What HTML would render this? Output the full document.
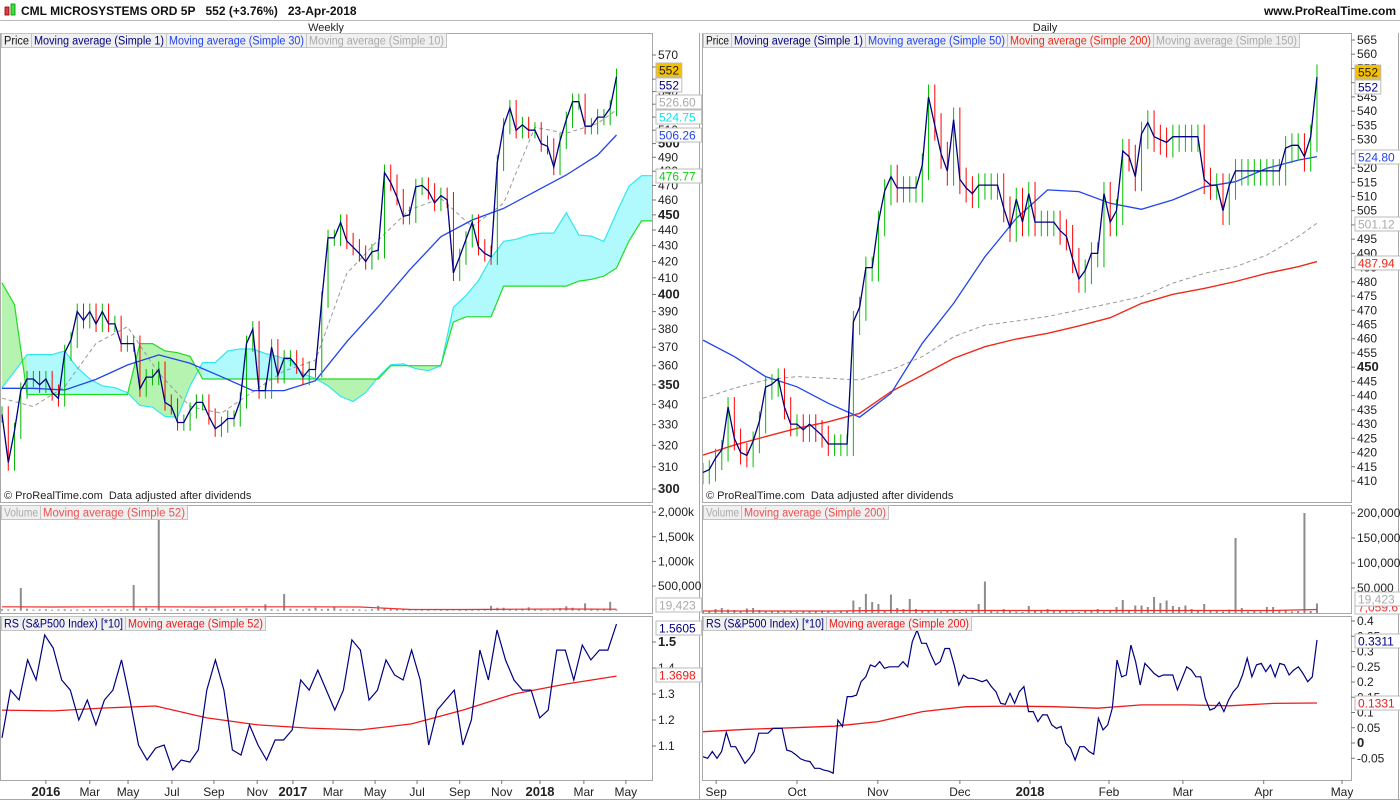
<!DOCTYPE html>
<html><head><meta charset="utf-8">
<style>
html,body{margin:0;padding:0;background:#fff;}
svg{display:block;font-family:"Liberation Sans",Arial,sans-serif;}
</style></head>
<body>
<svg id="c" width="1400" height="800" viewBox="0 0 1400 800" xmlns="http://www.w3.org/2000/svg"></svg>
<script>
// ---------- DATA ----------
const W_CLOSE=[335,312,327,347,353,353,350,353,346,343,367,374,390,385,390,383,390,383,383,372,372,372,348,354,354,358,341,339,331,331,337,341,341,334,328,330,333,333,342,372,380,347,347,370,355,364,364,360,354,358,358,397,435,435,445,433,429,425,420,426,427,479,472,462,449,450,469,470,466,458,463,460,413,423,434,445,429,425,423,486,513,527,510,514,510,510,500,498,483,502,518,532,532,513,513,520,520,527,552];
const W_MA30=[348.2,348.2,347.3,352.8,360.4,365.8,361.3,354.2,347,347,352.1,373,392.8,414.7,435.7,446.6,454.3,465.7,477.3,491.6,506.4];
const W_MA10=[343.1,338.9,349,372.1,381.4,356,338.9,335.6,346.4,357.2,363,412.7,433.5,453.3,461.1,442.2,457.8,512.2,507.7,515.2,525.5];
const CLOUD_A=[348.5,357,366,366,366,368,359,353,349.5,348.5,346,339.5,338.6,334,333.5,349.5,361.7,361.7,368,369,369,366.6,365,362.8,355.8,353.2,349.5,344,341.5,346,354,360.5,361,358.4,357.4,360,392.5,399.4,408.3,422.3,432.7,434,436.7,438,438,451.4,436.7,436,432.7,451.4,469.4,476.8,476.8];
const CLOUD_B=[407,394,345,345,345,345,345,345,345,345,345,372,372,368,367,365,353,353,353,353,353,353,353,353,353,353,353,353,353,353,353,360,360,360,360,360,384,387,387,387,405,405,405,405,405,405,408,409,411,416,433,446,446];
const W_VOL=[30,25,30,460,40,20,25,30,20,25,30,20,25,20,30,25,20,30,25,20,30,520,40,60,30,1860,40,20,30,25,20,25,30,20,40,30,25,40,30,50,40,35,130,30,20,340,40,30,25,40,60,30,40,70,30,20,30,25,20,30,100,50,40,30,40,15,10,20,15,10,25,15,10,20,30,25,15,20,100,60,60,30,30,40,70,25,20,15,30,50,90,60,40,150,40,30,40,180,19];
const W_VOLMA=[80,75,80,80,75,80,80,75,25,25,30,35,30];
const W_RS=[1.131,1.315,1.277,1.431,1.354,1.527,1.477,1.354,1.315,1.2,1.277,1.181,1.277,1.315,1.431,1.277,1.104,1.046,1.092,1.104,1.008,1.046,1.038,1.085,1.315,1.431,1.315,1.085,1.065,1.181,1.104,1.046,1.123,1.123,1.162,1.354,1.315,1.392,1.315,1.238,1.315,1.508,1.469,1.277,1.315,1.431,1.373,1.354,1.469,1.354,1.104,1.238,1.277,1.315,1.104,1.2,1.469,1.354,1.546,1.431,1.354,1.315,1.315,1.208,1.238,1.469,1.469,1.354,1.488,1.431,1.469,1.469,1.569];
const W_RSMA=[1.238,1.235,1.246,1.254,1.208,1.181,1.169,1.162,1.185,1.238,1.3,1.338,1.369];
const W_TICK_LABELS=["2016","Mar","May","Jul","Sep","Nov","2017","Mar","May","Jul","Sep","Nov","2018","Mar","May"];
const W_TICK_IDX=[7,14,20.1,27.1,33.8,40.7,46.4,52.8,59.5,66.2,73,79.7,85.8,92.8,99.5];

const D_CLOSE=[413,414,418,421,436,425,420,419,424,431,443,444,446,436,430,430,428,430,428,426,423,423,423,423,466,471,485,485,501,512,517,513,513,513,513,521,545,535,525,519,537,516,513,511,514,514,514,514,506,499,509,501,511,501,501,501,501,498,496,488,481,484,490,490,511,501,505,526,524,517,532,536,531,530,529,531,531,531,531,531,516,514,514,505,514,519,519,519,519,519,519,519,519,527,528,528,524,531,552];
const D_MA50=[459.5,453.7,446.7,443.1,437.3,432.4,440.8,458.4,472.4,488.8,502.3,512.3,511.7,507.6,505.5,508.8,513.4,515.2,519.9,522.8,524];
const D_MA200=[419.1,422.6,425.6,428.5,430.8,433.8,441.4,447.2,453.1,457.2,459.9,461.9,464.5,467.4,472.4,475.6,477.7,480.1,483,485.3,487.1];
const D_MA150=[439.05,442.6,445.5,446.7,446.1,445.5,449,453.7,460.7,464.8,466.2,467.8,470.1,472.4,474.8,479.5,483,485.3,489.4,495.9,500.6];
const D_VOL=[5,4,8,10,7,6,5,9,10,6,4,3,5,4,3,2,4,3,5,4,3,2,4,3,25,12,38,22,18,5,37,10,8,28,8,5,4,6,3,5,4,2,3,4,18,63,5,3,8,6,3,2,14,4,5,8,6,4,5,3,2,4,5,8,3,4,12,26,5,15,15,12,32,20,25,14,12,15,8,5,18,6,4,3,7,150,10,3,4,3,12,12,6,5,3,4,200,4,19];
const D_VOLMA=[4,4,4,4,5,5,5,5,5,5,5,5,5,5,7];
const D_RS=[-0.045,-0.05,-0.028,-0.05,-0.028,0.035,-0.012,-0.012,-0.039,-0.067,-0.05,-0.028,0.032,0.032,0.032,0.048,0.048,0.048,-0.023,-0.028,-0.039,-0.052,-0.058,-0.061,-0.083,-0.083,-0.089,-0.092,-0.099,0.075,0.054,0.152,0.152,0.157,0.201,0.217,0.256,0.25,0.267,0.245,0.25,0.25,0.25,0.267,0.25,0.332,0.37,0.327,0.327,0.289,0.256,0.267,0.31,0.31,0.256,0.19,0.223,0.212,0.212,0.207,0.201,0.207,0.185,0.168,0.13,0.127,0.163,0.13,0.168,0.185,0.103,0.103,0.07,0.092,0.092,0.059,0.048,0.054,-0.001,-0.017,-0.056,-0.012,-0.012,-0.028,-0.037,0.081,0.043,0.059,0.114,0.272,0.217,0.223,0.321,0.267,0.19,0.261,0.245,0.228,0.217,0.223,0.223,0.223,0.174,0.212,0.25,0.239,0.217,0.217,0.146,0.108,0.114,0.133,0.103,0.141,0.168,0.185,0.223,0.278,0.217,0.256,0.261,0.234,0.256,0.217,0.261,0.256,0.223,0.239,0.25,0.228,0.201,0.217,0.338];
const D_RSMA=[0.037,0.045,0.05,0.055,0.07,0.103,0.119,0.121,0.119,0.114,0.125,0.125,0.122,0.13,0.131];
const D_TICK_LABELS=["Sep","Oct","Nov","Dec","2018","Feb","Mar","Apr","May"];
const D_TICK_IDX=[2.1,15,27.9,41,52.2,64.8,76.6,89.5,102];

// ---------- SCALES ----------
const svg=document.getElementById('c');
const NS='http://www.w3.org/2000/svg';
function mk(tag,attrs,parent){const e=document.createElementNS(NS,tag);for(const k in attrs)e.setAttribute(k,attrs[k]);(parent||svg).appendChild(e);return e;}
const wx=i=>2+i*6.27;
const wy=v=>55+Math.log(570/v)*676.2;
const dx=k=>703+k*6.265;
const dy=v=>40+(565-v)*2.845;
const wvy=v=>610.7-v*0.0493;
const dvy=v=>613-v*0.5;
const wry=v=>642+(1.5-v)*260;
const dry=v=>743-v*305;
const knot=n=>{const a=[];for(let i=0;i<n-1;i++)a.push(i*5);a.push(98);return a;};
const KN=knot(21);

function poly(pts,stroke,sw,dash,parent){const e=mk('polyline',{points:pts.map(p=>p[0].toFixed(1)+','+p[1].toFixed(1)).join(' '),fill:'none',stroke:stroke,'stroke-width':sw},parent);if(dash)e.setAttribute('stroke-dasharray',dash);return e;}
function txt(x,y,s,opt,parent){const e=mk('text',Object.assign({x:x,y:y,'font-size':11,fill:'#222'},opt||{}),parent);e.textContent=s;return e;}

// ---------- HEADER ----------
let el;
el=mk('rect',{x:5,y:7,width:4,height:8,fill:'#e04040',stroke:'#800',"stroke-width":0.8});


el=mk('rect',{x:11,y:4,width:4,height:11,fill:'#40e040',stroke:'#080',"stroke-width":0.8});


el=txt(21,15,'CML MICROSYSTEMS ORD 5P\u00a0\u00a0\u00a0552 (+3.76%)\u00a0\u00a0\u00a023-Apr-2018',{'font-weight':'bold','font-size':12,fill:'#111'});


el=txt(1396,15,'www.ProRealTime.com',{'font-weight':'bold','font-size':12,fill:'#111','text-anchor':'end'});


el=mk('line',{x1:0,y1:20.5,x2:1400,y2:20.5,stroke:'#bbb'});


el=txt(326,31,'Weekly',{'text-anchor':'middle','font-size':11});


el=txt(1045,31,'Daily',{'text-anchor':'middle','font-size':11});



// ---------- PANEL FRAMES ----------
function frame(x,y,w,h,name){const e=mk('rect',{x:x+0.5,y:y+0.5,width:w,height:h,fill:'#fff',stroke:'#a8a8a8'});return e;}
frame(0,33,652,469,'weekly-price-panel');
frame(0,505,652,108,'weekly-volume-panel');
frame(0,616,652,164,'weekly-rs-panel');
frame(702,33,649,469,'daily-price-panel');
frame(702,505,649,108,'daily-volume-panel');
frame(702,616,649,164,'daily-rs-panel');
el=mk('line',{x1:699.5,y1:33,x2:699.5,y2:800,stroke:'#a8a8a8'});


el=mk('line',{x1:1398.5,y1:33,x2:1398.5,y2:800,stroke:'#a8a8a8'});


el=mk('line',{x1:0,y1:799.5,x2:1400,y2:799.5,stroke:'#a8a8a8'});



const defs=mk('defs',{});
function clip(id,x,y,w,h){const c=mk('clipPath',{id:id},defs);mk('rect',{x:x,y:y,width:w,height:h},c);}
clip('cwp',1,34,651,468);clip('cwv',1,506,651,107);clip('cwr',1,617,651,163);
clip('cdp',703,34,648,468);clip('cdv',703,506,648,107);clip('cdr',703,617,648,163);

// ---------- WEEKLY PRICE ----------
const gW=mk('g',{'clip-path':'url(#cwp)'});


const CK=CLOUD_A.map((_,j)=>j*2);
for(let j=0;j<CK.length-1;j++){
  const x1=wx(CK[j]),x2=wx(CK[j+1]);
  const up=(CLOUD_A[j]+CLOUD_A[j+1])>=(CLOUD_B[j]+CLOUD_B[j+1]);
  const p=mk('polygon',{points:`${x1},${wy(CLOUD_A[j])} ${x2},${wy(CLOUD_A[j+1])} ${x2},${wy(CLOUD_B[j+1])} ${x1},${wy(CLOUD_B[j])}`,fill:up?'#b0fafd':'#b6f3b0',stroke:up?'#b0fafd':'#b6f3b0','stroke-width':0.6},gW);
  
  
}
el=poly(CK.map((k,j)=>[wx(k),wy(CLOUD_A[j])]),'#30e8f0',1.2,null,gW);


el=poly(CK.map((k,j)=>[wx(k),wy(CLOUD_B[j])]),'#20dd20',1.2,null,gW);


el=poly(KN.map((k,j)=>[wx(k),wy(W_MA10[j])]),'#999',1,'4,3',gW);


el=poly(KN.map((k,j)=>[wx(k),wy(W_MA30[j])]),'#2244ee',1.3,null,gW);


for(let i=0;i<W_CLOSE.length;i++){
  const c=W_CLOSE[i],o=i?W_CLOSE[i-1]:c;
  const b=mk('line',{x1:wx(i),x2:wx(i),y1:wy(Math.max(o,c)*1.012),y2:wy(Math.min(o,c)*0.988),stroke:c>=o?'#00b400':'#ff0000','stroke-width':1},gW);
  
  
}
el=poly(W_CLOSE.map((v,i)=>[wx(i),wy(v)]),'#000080',1.3,null,gW);



// ---------- DAILY PRICE ----------
const gD=mk('g',{'clip-path':'url(#cdp)'});


el=poly(KN.map((k,j)=>[dx(k),dy(D_MA150[j])]),'#999',1,'4,3',gD);


el=poly(KN.map((k,j)=>[dx(k),dy(D_MA200[j])]),'#ee2a1a',1.4,null,gD);


el=poly(KN.map((k,j)=>[dx(k),dy(D_MA50[j])]),'#2244ee',1.3,null,gD);


for(let i=0;i<D_CLOSE.length;i++){
  const c=D_CLOSE[i],o=i?D_CLOSE[i-1]:c;
  const b=mk('line',{x1:dx(i),x2:dx(i),y1:dy(Math.max(o,c)*1.008),y2:dy(Math.min(o,c)*0.99),stroke:c>=o?'#00c000':'#ff0000','stroke-width':1},gD);
  
  
}
el=poly(D_CLOSE.map((v,i)=>[dx(i),dy(v)]),'#000080',1.3,null,gD);



// ---------- VOLUME ----------
const gWV=mk('g',{'clip-path':'url(#cwv)'});


W_VOL.forEach((v,i)=>{const b=mk('rect',{x:wx(i)-1,y:wvy(v),width:2,height:wvy(0)-wvy(v),fill:'#8c8c8c'},gWV);
  
  });
el=poly(W_VOLMA.map((v,j)=>[wx(j*98/12),wvy(v)]),'#ee3030',1.2,null,gWV);


const gDV=mk('g',{'clip-path':'url(#cdv)'});


D_VOL.forEach((v,i)=>{const b=mk('rect',{x:dx(i)-1,y:dvy(v),width:2,height:dvy(0)-dvy(v),fill:'#8c8c8c'},gDV);
  
  });
el=poly(D_VOLMA.map((v,j)=>[dx(j*98/14),dvy(v)]),'#ee3030',1.2,null,gDV);



// ---------- RS ----------
const gWR=mk('g',{'clip-path':'url(#cwr)'});


el=poly(W_RSMA.map((v,j)=>[wx(j*98/12),wry(v)]),'#ee1a1a',1.3,null,gWR);


el=poly(W_RS.map((v,j)=>[wx(j*98/(W_RS.length-1)),wry(v)]),'#000080',1.2,null,gWR);


const gDR=mk('g',{'clip-path':'url(#cdr)'});


el=poly(D_RSMA.map((v,j)=>[dx(j*98/14),dry(v)]),'#ee1a1a',1.3,null,gDR);


el=poly(D_RS.map((v,j)=>[dx(j*98/(D_RS.length-1)),dry(v)]),'#000080',1.2,null,gDR);



// ---------- AXES ----------
function ytick(x,y,label,bold,name){
  const t=mk('line',{x1:x,x2:x+4,y1:y,y2:y,stroke:'#777'});
  
  
  const l=txt(x+6,y+4,label,{'font-size':bold?13:12,'font-weight':bold?'bold':'normal',fill:'#222'});
  
  
}
for(let v=300;v<=570;v+=10)ytick(652,wy(v),String(v),v%50===0,'weekly-price-axis');
for(let v=410;v<=565;v+=5)ytick(1351,dy(v),String(v),v===450,'daily-price-axis');
[[2000,'2,000k'],[1500,'1,500k'],[1000,'1,000k'],[500,'500,000']].forEach(a=>ytick(652,wvy(a[0]),a[1],false,'weekly-volume-axis'));
[[200,'200,000'],[150,'150,000'],[100,'100,000'],[50,'50,000']].forEach(a=>ytick(1351,dvy(a[0]),a[1],false,'daily-volume-axis'));
[1.1,1.2,1.3,1.4,1.5].forEach(v=>ytick(652,wry(v),String(v),v===1.5,'weekly-rs-axis'));
[-0.05,0,0.05,0.1,0.15,0.2,0.25,0.3,0.35,0.4].forEach(v=>ytick(1351,dry(v),String(v),v===0,'daily-rs-axis'));

function vbox(x,y,label,color,bg,name){
  const r=mk('rect',{x:x,y:y-7,width:label.length*6.6+6,height:14,fill:bg,stroke:'#bbb'});
  
  
  const t=txt(x+3,y+4.5,label,{'font-size':12,fill:color});
  
  
}
vbox(656,70,'552','#222','#f5c000','weekly-last-price');
vbox(656,85,'552','#000080','#fff','weekly-close-value');
vbox(656,102,'526.60','#aaa','#fff','weekly-ma10-value');
vbox(656,117,'524.75','#18e0f0','#fff','weekly-span-a-value');
vbox(656,135,'506.26','#2244ee','#fff','weekly-ma30-value');
vbox(656,176,'476.77','#10d010','#fff','weekly-span-b-value');
vbox(1355,72,'552','#222','#f5c000','daily-last-price');
vbox(1355,87,'552','#000080','#fff','daily-close-value');
vbox(1355,157,'524.80','#2244ee','#fff','daily-ma50-value');
vbox(1355,224,'501.12','#aaa','#fff','daily-ma150-value');
vbox(1355,263,'487.94','#ee2a1a','#fff','daily-ma200-value');
vbox(656,605,'19,423','#aaa','#fff','weekly-volume-value');
vbox(1355,607,'7,059.6','#ee3030','#fff','daily-volume-ma-value');
vbox(1355,599,'19,423','#aaa','#fff','daily-volume-value');
vbox(656,628,'1.5605','#000080','#fff','weekly-rs-value');
vbox(656,675,'1.3698','#ee1a1a','#fff','weekly-rs-ma-value');
vbox(1355,641,'0.3311','#000080','#fff','daily-rs-value');
vbox(1355,703,'0.1331','#ee1a1a','#fff','daily-rs-ma-value');

W_TICK_LABELS.forEach((s,j)=>{const x=wx(W_TICK_IDX[j]);
  const t=mk('line',{x1:x,x2:x,y1:780,y2:784,stroke:'#777'});
  
  
  const l=txt(x,796,s,{'text-anchor':'middle','font-size':s.length===4?13:12,'font-weight':s.length===4?'bold':'normal'});
  
  });
D_TICK_LABELS.forEach((s,j)=>{const x=dx(D_TICK_IDX[j]);
  const t=mk('line',{x1:x,x2:x,y1:780,y2:784,stroke:'#777'});
  
  
  const l=txt(x,796,s,{'text-anchor':'middle','font-size':s.length===4?13:12,'font-weight':s.length===4?'bold':'normal'});
  
  });

// ---------- LEGENDS ----------
function leg(x,y,w,label,color,name){
  const r=mk('rect',{x:x+0.5,y:y+0.5,width:w,height:14,fill:'#f0f0f0',stroke:'#c4c4c4'});
  
  
  const t=txt(x+3,y+11.5,label,{'font-size':11.5,fill:color,textLength:w-5,lengthAdjust:'spacingAndGlyphs'});
  
  
}
leg(1,33,30,'Price','#111','weekly-legend-price');
leg(31,33,135,'Moving average (Simple 1)','#000080','weekly-legend-ma1');
leg(166,33,140,'Moving average (Simple 30)','#2244ee','weekly-legend-ma30');
leg(306,33,140,'Moving average (Simple 10)','#aaa','weekly-legend-ma10');
leg(703,33,28,'Price','#111','daily-legend-price');
leg(731,33,134,'Moving average (Simple 1)','#000080','daily-legend-ma1');
leg(865,33,142,'Moving average (Simple 50)','#2244ee','daily-legend-ma50');
leg(1007,33,146,'Moving average (Simple 200)','#ee2a1a','daily-legend-ma200');
leg(1153,33,146,'Moving average (Simple 150)','#aaa','daily-legend-ma150');
leg(1,505,39,'Volume','#aaa','weekly-legend-volume');
leg(40,505,147,'Moving average (Simple 52)','#ee5050','weekly-legend-volume-ma');
leg(703,505,38,'Volume','#aaa','daily-legend-volume');
leg(741,505,147,'Moving average (Simple 200)','#ee5050','daily-legend-volume-ma');
leg(1,616,124,'RS (S&P500 Index) [*10]','#000080','weekly-legend-rs');
leg(125,616,140,'Moving average (Simple 52)','#ee1a1a','weekly-legend-rs-ma');
leg(703,616,123,'RS (S&P500 Index) [*10]','#000080','daily-legend-rs');
leg(826,616,145,'Moving average (Simple 200)','#ee1a1a','daily-legend-rs-ma');

el=txt(4,499,'© ProRealTime.com\u00a0\u00a0Data adjusted after dividends',{'font-size':11,fill:'#222'});


el=txt(706,499,'© ProRealTime.com\u00a0\u00a0Data adjusted after dividends',{'font-size':11,fill:'#222'});


</script>
</body></html>
